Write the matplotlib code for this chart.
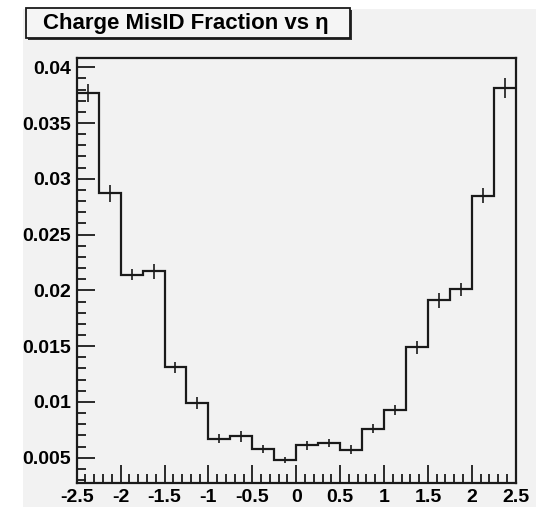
import numpy as np
import matplotlib
matplotlib.use("Agg")
from matplotlib import pyplot as plt
from matplotlib.patches import Rectangle
from matplotlib.ticker import MultipleLocator, FormatStrFormatter

# histogram data: 20 bins in eta from -2.5 to 2.5
bin_edges = [-2.5, -2.25, -2.0, -1.75, -1.5, -1.25, -1.0, -0.75, -0.5, -0.25, 0.0,
             0.25, 0.5, 0.75, 1.0, 1.25, 1.5, 1.75, 2.0, 2.25, 2.5]
misid_frac = [0.0377, 0.0287, 0.0214, 0.0217, 0.0131, 0.0099, 0.0067, 0.0069, 0.0058, 0.0048,
              0.0061, 0.0063, 0.0057, 0.0076, 0.0093, 0.0149, 0.0191, 0.0201, 0.0285, 0.0381]
misid_err = [0.0008, 0.00075, 0.0005, 0.0007, 0.0005, 0.0005, 0.0004, 0.00045, 0.00035, 0.0003,
             0.00037, 0.00037, 0.0004, 0.0004, 0.00045, 0.00057, 0.00067, 0.0006, 0.0007, 0.0009]
title = "Charge MisID Fraction vs \u03b7"

plt.rcParams['font.family'] = ['Liberation Sans', 'DejaVu Sans']
plt.rcParams['axes.unicode_minus'] = False

W, H = 536, 507
fig = plt.figure(figsize=(W / 100, H / 100), dpi=100)
fig.patch.set_facecolor('white')

bg = '#f2f2f2'
# canvas pad
fig.patches.append(Rectangle((23 / W, 0), 1 - 23 / W, 1 - 9 / H, transform=fig.transFigure,
                             facecolor=bg, edgecolor='none', zorder=-5))

ax = fig.add_axes([76.7 / W, 1 - 483 / H, (515.7 - 76.7) / W, (483 - 58) / H])
ax.set_facecolor(bg)
ax.set_zorder(1)

edges = np.array(bin_edges)
centers = 0.5 * (edges[:-1] + edges[1:])
ax.stairs(misid_frac, edges, color='#1a1a1a', lw=1.6, baseline=None)
ax.errorbar(centers, misid_frac, yerr=misid_err, fmt='none', ecolor='#1a1a1a', elinewidth=1.2)

ax.set_xlim(-2.5, 2.5)
ax.set_ylim(0.00273, 0.04083)

ax.xaxis.set_major_locator(MultipleLocator(0.5))
ax.xaxis.set_minor_locator(MultipleLocator(0.1))
ax.yaxis.set_major_locator(MultipleLocator(0.005))
ax.yaxis.set_minor_locator(MultipleLocator(0.001))
ax.xaxis.set_major_formatter(FormatStrFormatter('%g'))
ax.yaxis.set_major_formatter(FormatStrFormatter('%g'))

ax.tick_params(which='both', direction='in', color='#1a1a1a', width=1.3,
               top=False, right=False)
ax.tick_params(which='major', length=13, pad=4, labelsize=14)
ax.tick_params(which='minor', length=6.5)
for lab in ax.get_xticklabels() + ax.get_yticklabels():
    lab.set_fontweight('bold')

for sp in ax.spines.values():
    sp.set_linewidth(1.6)
    sp.set_color('#1a1a1a')

# title box with shadow, ROOT style
fig.patches.append(Rectangle((28 / W, 1 - 40 / H), 324 / W, 30 / H, transform=fig.transFigure,
                             facecolor='#333333', edgecolor='none', zorder=2))
fig.patches.append(Rectangle((26 / W, 1 - 38 / H), 324 / W, 30 / H, transform=fig.transFigure,
                             facecolor='#f5f5f5', edgecolor='#1a1a1a', lw=1.3, zorder=3))
fig.text(186 / W, 1 - 23.5 / H, title, ha='center', va='center', fontsize=16,
         fontweight='bold', zorder=4)

fig.savefig('out.png', dpi=100)
